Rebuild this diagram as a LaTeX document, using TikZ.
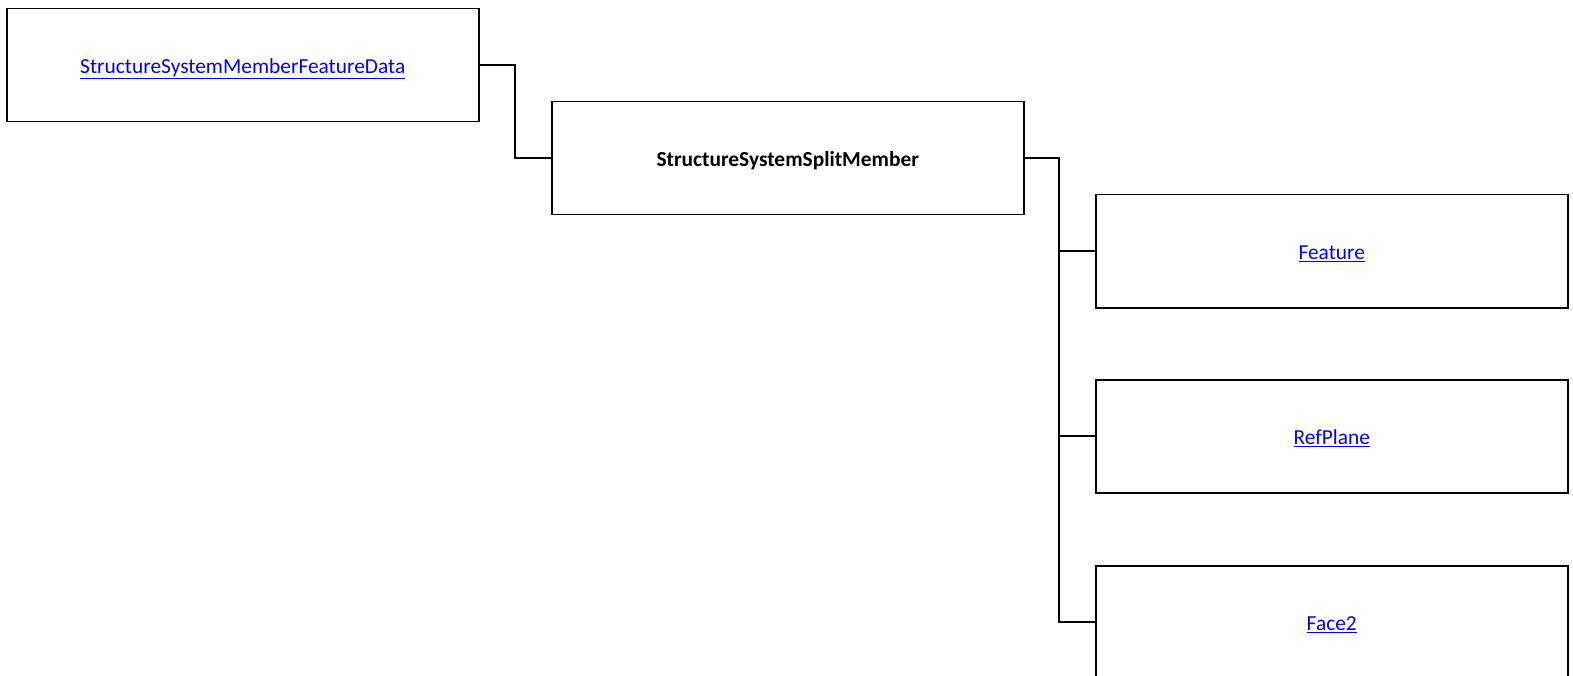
\documentclass[tikz,border=0pt]{standalone}
\usepackage{fontspec}
\setmainfont{Carlito}
\begin{document}
\begin{tikzpicture}[x=1pt,y=-1pt,
  box/.style={draw=black,line width=1.5pt,minimum width=472pt,minimum height=113pt,inner sep=0pt,anchor=north west,text height=16pt,text depth=0pt,font=\fontsize{21.4}{24}\selectfont},
  link/.style={text=blue},
  conn/.style={draw=black,line width=2pt}]
\useasboundingbox (0,0) rectangle (1573,676);
\node[box,link] (a) at (6,8) {\underline{StructureSystemMemberFeatureData}};
\node[box,font=\fontsize{21.4}{24}\selectfont\bfseries] (b) at (551,101) {StructureSystemSplitMember};
\node[box,link] (f) at (1095,194) {\underline{Feature}};
\node[box,link] (r) at (1095,379) {\underline{RefPlane}};
\node[box,link] (g) at (1095,565) {\underline{Face2}};
\coordinate (j1) at (515,0);
\coordinate (j2) at (1059,0);
\draw[conn] (a.east) -| (j1 |- b.west) -- (b.west);
\draw[conn] (b.east) -| (j2 |- g.west) -- (g.west);
\draw[conn] (j2 |- f.west) -- (f.west);
\draw[conn] (j2 |- r.west) -- (r.west);
\end{tikzpicture}
\end{document}
